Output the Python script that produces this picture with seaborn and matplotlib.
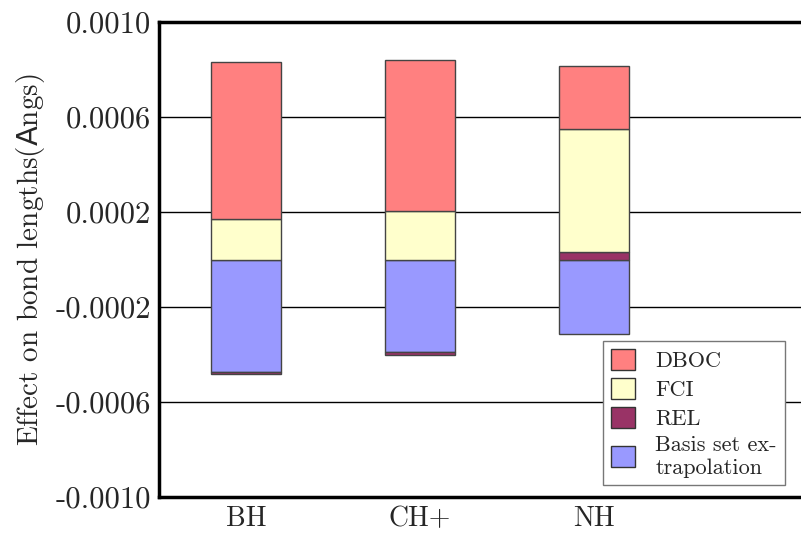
import numpy as np
import pandas as pd
import matplotlib
matplotlib.use("Agg")
import matplotlib.pyplot as plt
import seaborn as sns
from matplotlib.patches import Patch

molecules = ["BH", "CH+", "NH"]
basis = [-0.000475, -0.000388, -0.000314]
rel = [-0.000006, -0.000014, 0.000030]
fci = [0.000169, 0.000205, 0.000521]
dboc = [0.000663, 0.000634, 0.000265]

series_names = ["Basis set ex-\ntrapolation", "REL", "FCI", "DBOC"]
series_vals = [basis, rel, fci, dboc]
colors = ["#9999FF", "#993366", "#FFFFCC", "#FF8080"]

yticks = [0.0010, 0.0006, 0.0002, -0.0002, -0.0006, -0.0010]
ytick_labels = ["0.0010", "0.0006", "0.0002", "-0.0002", "-0.0006", "-0.0010"]

sns.set_theme(style="white")
plt.rcParams["font.family"] = ["cmr10", "DejaVu Serif"]
plt.rcParams["axes.unicode_minus"] = False

fig = plt.figure(figsize=(8.01, 5.33), dpi=100)
ax = fig.add_axes([159 / 801, 36 / 533, 642 / 801, 475 / 533])

pos = np.zeros(len(molecules))
neg = np.zeros(len(molecules))
for name, vals, col in zip(series_names, series_vals, colors):
    v = np.array(vals)
    bottom = np.where(v >= 0, pos, neg)
    df = pd.DataFrame({"mol": molecules, "val": v})
    sns.barplot(data=df, x="mol", y="val", order=molecules, color=col,
                saturation=1, width=0.40, bottom=bottom, edgecolor="#444444",
                linewidth=1.0, errorbar=None, ax=ax, zorder=3)
    pos = np.where(v >= 0, pos + v, pos)
    neg = np.where(v < 0, neg + v, neg)

ax.set_xlim(-0.5, -0.5 + 642 / 174)
ax.set_ylim(-0.0010, 0.0010)
ax.set_yticks(yticks)
ax.set_yticklabels(ytick_labels, fontsize=22)
ax.set_xticks(range(len(molecules)))
ax.set_xticklabels(molecules, fontsize=20)
ax.set_xticks([-0.5, 0.5, 1.5], minor=True)
ax.tick_params(axis="x", which="major", length=0, pad=6)
ax.tick_params(axis="x", which="minor", length=5, width=1, direction="out", color="#333333")
ax.tick_params(axis="y", which="major", length=4, width=1, direction="out", color="#333333", pad=2)
ax.set_xlabel("")
ax.set_ylabel("Effect on bond lengths($\\mathsf{A}$ngs)", fontsize=21, labelpad=6)

ax.yaxis.grid(True, color="black", linewidth=1.0, zorder=0)
ax.set_axisbelow(True)
for s in ["left", "bottom", "top"]:
    ax.spines[s].set_visible(True)
    ax.spines[s].set_linewidth(2.5)
    ax.spines[s].set_color("black")
ax.spines["right"].set_visible(False)

handles = [Patch(facecolor=c, edgecolor="#333333", label=n)
           for n, c in zip(["DBOC", "FCI", "REL", "Basis set ex-\ntrapolation"],
                           ["#FF8080", "#FFFFCC", "#993366", "#9999FF"])]
leg = ax.legend(handles=handles, loc="upper left",
                bbox_to_anchor=((603 - 159) / 642, (497 - 341) / 475),
                fontsize=16, frameon=True, fancybox=False, framealpha=1,
                edgecolor="#777777", handlelength=1.1, handleheight=1.1,
                handletextpad=0.9, labelspacing=0.3, borderpad=0.35,
                borderaxespad=0)
leg.get_frame().set_linewidth(1.0)

fig.savefig("out.png", dpi=100)
